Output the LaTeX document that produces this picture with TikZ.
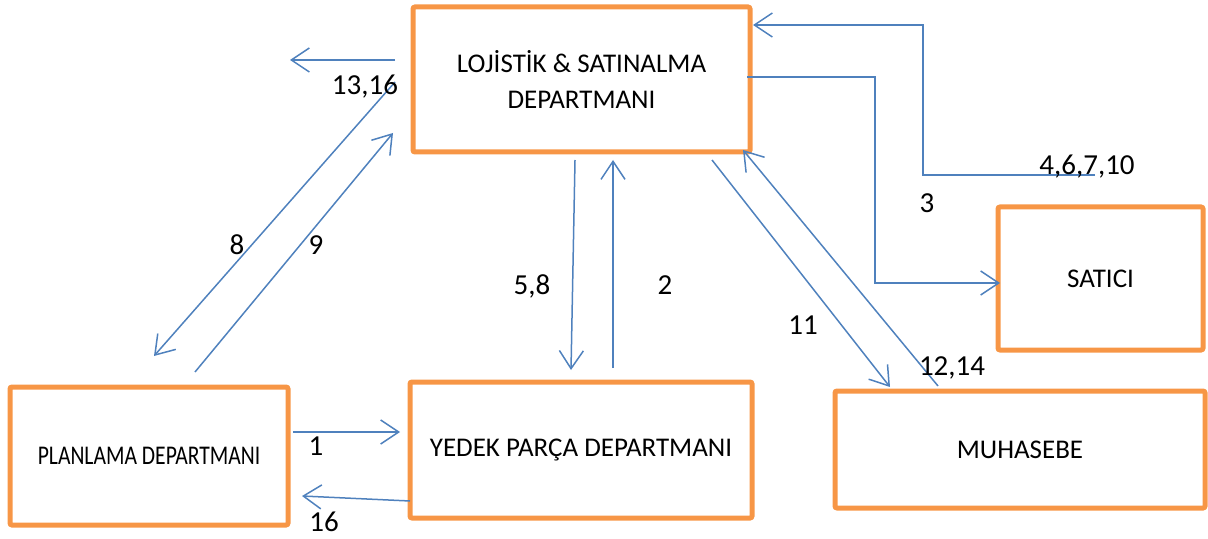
\documentclass[tikz,border=0pt]{standalone}
\usepackage{fontspec}
\setmainfont{Carlito}
\usetikzlibrary{arrows.meta}
\definecolor{deptorange}{RGB}{247,150,70}
\definecolor{flowblue}{RGB}{79,129,189}
\tikzset{
  dept/.style={draw=deptorange, line width=2.5pt, rounded corners=1pt, align=center, inner sep=0pt, font=\fontsize{13.5}{18}\selectfont},
  flow/.style={draw=flowblue, line width=0.75pt, -{Straight Barb[length=9pt,width=12pt]}},
  num/.style={font=\fontsize{14.5}{17}\selectfont, inner sep=0pt, anchor=base}
}
\begin{document}
\begin{tikzpicture}[x=0.5pt,y=-0.5pt]
			\useasboundingbox (0,0) rectangle (1208,539);
			% Draw the departments
			\node[dept, minimum width=168.5pt, minimum height=72.5pt] (lojistik) at (581.5,79.5) {LOJİSTİK \& SATINALMA\\DEPARTMANI};
			\node[dept, minimum width=102.5pt, minimum height=71.5pt] (satici) at (1100.5,278.5) {SATICI};
			\node[dept, minimum width=139pt, minimum height=69pt] (planlama) at (149,456) {\scalebox{0.8}[1]{PLANLAMA DEPARTMANI}};
			\node[dept, minimum width=171pt, minimum height=68pt] (yedek) at (581,450) {YEDEK PARÇA DEPARTMANI};
			\node[dept, minimum width=185pt, minimum height=58.5pt] (muhasebe) at (1020,449.5) {MUHASEBE};
			% End points of the arrows
			\coordinate (l13) at (395,60);
			\coordinate (e13) at (290,60);
			\coordinate (l8) at (395,82);
			\coordinate (p8) at (154,356);
			\coordinate (p9) at (195,372);
			\coordinate (l9) at (393,133);
			\coordinate (l5) at (575,160);
			\coordinate (y5) at (571,370);
			\coordinate (y2) at (613,368);
			\coordinate (l2) at (613,160);
			\coordinate (l11) at (712,160);
			\coordinate (m11) at (890,387);
			\coordinate (m12) at (938,386);
			\coordinate (l12) at (743,150);
			\coordinate (s4) at (1095,175);
			\coordinate (l4) at (753,25);
			\coordinate (l3) at (747,77);
			\coordinate (s3) at (1000,283);
			\coordinate (p1) at (293,432);
			\coordinate (y1) at (400,432);
			\coordinate (y16) at (410,501);
			\coordinate (p16) at (302,496);
			% Draw the flows
			\draw[flow] (l13) -- (e13);
			\draw[flow] (l8) -- (p8);
			\draw[flow] (p9) -- (l9);
			\draw[flow] (l5) -- (y5);
			\draw[flow] (y2) -- (l2);
			\draw[flow] (l11) -- (m11);
			\draw[flow] (m12) -- (l12);
			\draw[flow] (s4) -- (923,175) -- (923,25) -- (l4);
			\draw[flow] (l3) -- (875,77) -- (875,283) -- (s3);
			\draw[flow] (p1) -- (y1);
			\draw[flow] (y16) -- (p16);
			% Labels
			\node[num] (n13) at (365,95) {13,16};
			\node[num] (n8) at (237,255) {8};
			\node[num] (n9) at (316,255) {9};
			\node[num] (n5) at (532,295) {5,8};
			\node[num] (n2) at (665,295) {2};
			\node[num] (n11) at (803,335) {11};
			\node[num] (n12) at (952,375) {12,14};
			\node[num] (n4) at (1087,175) {4,6,7,10};
			\node[num] (n3) at (927,213) {3};
			\node[num] (n1) at (316,455) {1};
			\node[num] (n16) at (324,531) {16};
		\end{tikzpicture}
\end{document}
